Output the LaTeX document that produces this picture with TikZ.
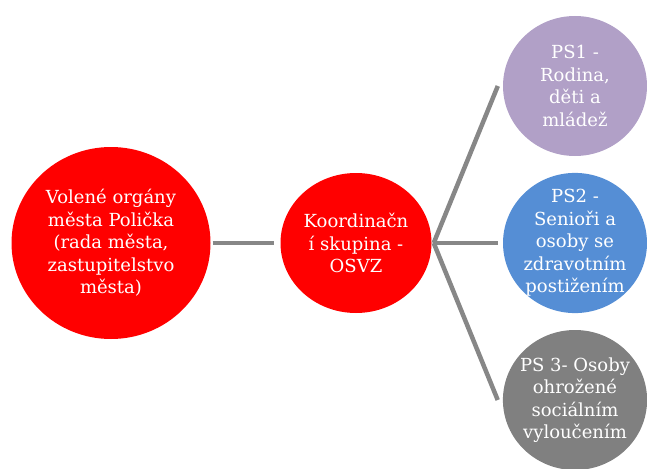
\documentclass[tikz,border=0pt]{standalone}
\usepackage{fontspec}
\setmainfont{DejaVu Serif}
\usetikzlibrary{shapes.geometric}
\definecolor{psjedna}{HTML}{B1A0C7}
\definecolor{psdva}{HTML}{558ED5}
\definecolor{pstri}{HTML}{808080}
\definecolor{spoj}{HTML}{878787}
\begin{document}
\begin{tikzpicture}
	[x=1pt,y=-1pt,
	every node/.style={ellipse,inner sep=-4pt,text=white,align=center,font=\fontsize{18}{22.5}\selectfont},
	organ/.style={fill=red,minimum width=199pt,minimum height=192pt},
	koordinace/.style={fill=red,minimum width=151pt,minimum height=140pt},
	skupina/.style={minimum width=144pt,minimum height=140pt},
	link/.style={draw=spoj,line width=4.5pt}]
	\useasboundingbox (0,0) rectangle (647,468);
	\node[organ] (vol) at (111,243) {Volené orgány\\města Polička\\(rada města,\\zastupitelstvo\\města)};
	\node[koordinace] (koord) at (356,243) {Koordinačn\\í skupina -\\OSVZ};
	\node[skupina,fill=psjedna] (ps1) at (575,86) {PS1 -\\Rodina,\\děti a\\mládež};
	\node[skupina,fill=psdva] (ps2) at (575,243) {PS2 -\\Senioři a\\osoby se\\zdravotním\\postižením};
	\node[skupina,fill=pstri] (ps3) at (575,400) {PS 3- Osoby\\ohrožené\\sociálním\\vyloučením};
	\coordinate (fan) at ([xshift=2pt]koord.east);
	\draw[link] ([xshift=2pt]vol.east) -- ([xshift=-6pt]koord.west);
	\draw[link] (fan) -- ([xshift=-5pt]ps1.west);
	\draw[link] (fan) -- ([xshift=-5pt]ps2.west);
	\draw[link] (fan) -- ([xshift=-5pt]ps3.west);
\end{tikzpicture}
\end{document}
